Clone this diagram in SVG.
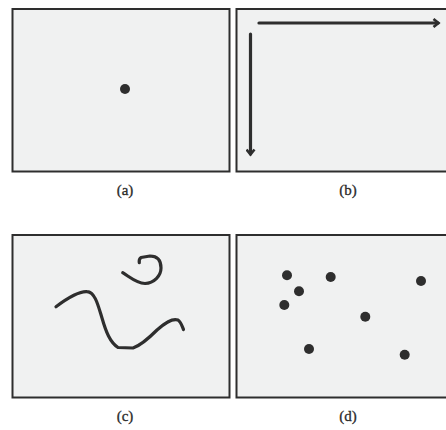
<svg xmlns="http://www.w3.org/2000/svg" width="446" height="430" viewBox="0 0 446 430">
<style>
.panel{fill:#f0f1f1;stroke:#2e2e2e;stroke-width:2}
.dot{fill:#2e2e2e}
.line{fill:none;stroke:#2e2e2e;stroke-width:3.2;stroke-linecap:round;stroke-linejoin:round}
.lbl{font-family:"Liberation Serif",serif;font-size:15px;fill:#2a2a2a;text-anchor:middle;stroke:#2a2a2a;stroke-width:0.3}
</style>
<defs>
<marker id="ah" markerWidth="10" markerHeight="10" refX="6" refY="5" orient="auto" markerUnits="userSpaceOnUse">
<path d="M1.5,1 L6.5,5 L1.5,9" fill="none" stroke="#2e2e2e" stroke-width="2.6" stroke-linejoin="miter"/>
</marker>
</defs>
<rect width="446" height="430" fill="#fff"/>
<g id="panel-a">
<rect class="panel" x="12.5" y="9" width="217" height="162.5"/>
<circle class="dot" cx="125" cy="89" r="5"/>
<text class="lbl" x="125" y="195">(a)</text>
</g>
<g id="panel-b">
<rect class="panel" x="236.5" y="9" width="212" height="162.5"/>
<text class="lbl" x="348" y="195">(b)</text>
</g>
<g id="connectors">
<line class="line" x1="259" y1="23" x2="438" y2="23" marker-end="url(#ah)"/>
<line class="line" x1="250.5" y1="34" x2="250.5" y2="154" marker-end="url(#ah)"/>
</g>
<g id="panel-c">
<rect class="panel" x="12.5" y="235" width="217" height="162.5"/>
<path class="line" d="M56,306.7 C65,300 78,291 87,291.7 C95,292 98,305 102,318 C106,332 110,342 118,347.5 L133,348 C142,345 150,337 157,330 C165,323 172,318 178,320 C181,322 182,326 183.5,329.5"/>
<path class="line" d="M122.7,272.7 C130,277 136,283 145,283.5 C154,283 161,276 161,268 C161,259 156,256 150,256 L141,257.5 C139,259 139,261 139.3,262.7"/>
<text class="lbl" x="125" y="421">(c)</text>
</g>
<g id="panel-d">
<rect class="panel" x="236.5" y="235" width="212" height="162.5"/>
<circle class="dot" cx="287" cy="275.3" r="5"/>
<circle class="dot" cx="330.7" cy="277" r="5"/>
<circle class="dot" cx="421" cy="281" r="5"/>
<circle class="dot" cx="299" cy="291.3" r="5"/>
<circle class="dot" cx="284.3" cy="305" r="5"/>
<circle class="dot" cx="365.3" cy="316.7" r="5"/>
<circle class="dot" cx="309" cy="349" r="5"/>
<circle class="dot" cx="404.7" cy="354.7" r="5"/>
<text class="lbl" x="348" y="421">(d)</text>
</g>
</svg>
